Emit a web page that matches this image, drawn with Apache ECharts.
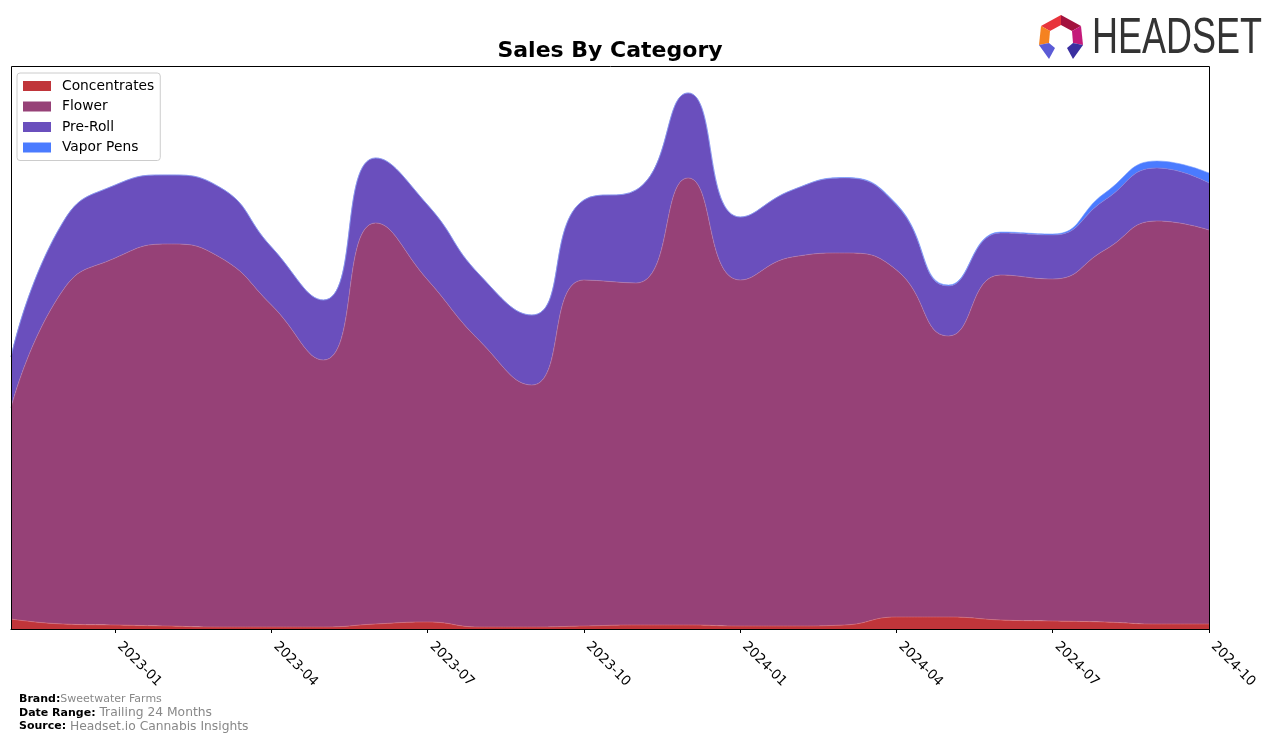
<!DOCTYPE html>
<html>
<head>
<meta charset="utf-8">
<script src="https://cdn.jsdelivr.net/npm/echarts@6/dist/echarts.min.js"></script>
<style>
html,body{margin:0;padding:0;background:#fff;}
#chart{width:1276px;height:743px;}
</style>
</head>
<body>
<div id="chart"></div>
<script>
const months = ['2022-11','2022-12','2023-01','2023-02','2023-03','2023-04','2023-05','2023-06','2023-07','2023-08','2023-09','2023-10','2023-11','2023-12','2024-01','2024-02','2024-03','2024-04','2024-05','2024-06','2024-07','2024-08','2024-09','2024-10'];
const concentrates = [10,5,4,3,2,2,2,5,7,2,2,3,4,4,3,3,4,12,12,9,8,7,5,5];
const flower = [211,334,367,382,370,322,267,401,342,286,242,346,342,447,346,369,372,347,281,345,342,372,403,394];
const preRoll = [51,68,73,69,70,58,60,65,75,66,70,80,93,85,63,67,75,65,50,42,44,50,53,47];
const vaporPens = [0,0,0,0,0,0,0,0,0,0,0,0,0,0,0,0,0.5,1,1,1,1,7,7,10];
const seriesNames = ['Concentrates','Flower','Pre-Roll','Vapor Pens'];
const seriesData = [concentrates, flower, preRoll, vaporPens];
const colors = ['#c0353a','#964177','#6a4fbd','#4a7bff'];
const edgeColors = ['#d8707a','#b87aa4','#8f7ad0','#7aa0ff'];

const chart = echarts.init(document.getElementById('chart'), null, {renderer:'canvas'});
const showTick = (i) => (i + 1) % 3 === 0;

const option = {
  animation: false,
  color: colors,
  grid: {left: 11, right: 67, top: 66, bottom: 114, containLabel: false},
  legend: {
    orient: 'vertical', left: 17, top: 73,
    data: seriesNames.map(n => ({name: n, icon: 'rect'})),
    itemWidth: 28, itemHeight: 10, itemGap: 6.5,
    padding: [6, 6, 6, 6],
    borderColor: '#cccccc', borderWidth: 1, borderRadius: 3,
    backgroundColor: 'rgba(255,255,255,0.8)',
    textStyle: {fontFamily: 'DejaVu Sans', fontSize: 13.8, color: '#000', lineHeight: 14, padding: [0,0,0,6]}
  },
  xAxis: {
    type: 'category', data: months, boundaryGap: false,
    axisLine: {show: true, lineStyle: {color: '#000', width: 1}},
    axisTick: {show: true, interval: (i) => showTick(i), length: 4, lineStyle: {color: '#000'}},
    axisLabel: {
      show: true, interval: (i) => showTick(i), rotate: -45, margin: 11, padding: [0,0,0,6],
      fontFamily: 'DejaVu Sans', fontSize: 13.5, color: '#000'
    },
    splitLine: {show: false}
  },
  yAxis: {type: 'value', min: 0, max: 563, show: false, splitLine: {show: false}},
  series: seriesNames.map((n, k) => ({
    name: n, type: 'line', stack: 'total', data: seriesData[k],
    smooth: 0.5, symbol: 'none',
    lineStyle: {width: 0.6, color: edgeColors[k]},
    itemStyle: {color: colors[k]},
    areaStyle: {color: colors[k], opacity: 1}
  })),
  graphic: [
    {type: 'rect', z: 100, silent: true, shape: {x: 11.5, y: 66.5, width: 1198, height: 563},
     style: {fill: 'none', stroke: '#000', lineWidth: 1}},
    {type: 'text', z: 100, x: 610, y: 51, style: {text: 'Sales By Category', font: 'bold 22px "DejaVu Sans"', fill: '#000', textAlign: 'center', textVerticalAlign: 'middle'}},
    {type: 'text', z: 100, x: 19, y: 699.5, style: {
      text: '{b|Brand:}{g1|Sweetwater Farms}', textVerticalAlign: 'middle',
      rich: {b: {font: 'bold 11px "DejaVu Sans"', fill: '#000'}, g1: {font: '11px "DejaVu Sans"', fill: '#888'}}}},
    {type: 'text', z: 100, x: 19, y: 713, style: {
      text: '{b|Date Range: }{g|Trailing 24 Months}', textVerticalAlign: 'middle',
      rich: {b: {font: 'bold 11px "DejaVu Sans"', fill: '#000'}, g: {font: '12.3px "DejaVu Sans"', fill: '#888'}}}},
    {type: 'text', z: 100, x: 19, y: 726.5, style: {
      text: '{b|Source: }{g|Headset.io Cannabis Insights}', textVerticalAlign: 'middle',
      rich: {b: {font: 'bold 11px "DejaVu Sans"', fill: '#000'}, g: {font: '12.3px "DejaVu Sans"', fill: '#888'}}}},
    {type: 'text', z: 100, x: 1092, y: 39, scaleX: 0.72, style: {text: 'HEADSET', font: '50px "Liberation Sans"', fill: '#333333', textVerticalAlign: 'middle'}},
    {type: 'polygon', z: 100, shape: {points: [[1041,26],[1061,15],[1061,25],[1050,31]]}, style: {fill: '#e8343c'}},
    {type: 'polygon', z: 100, shape: {points: [[1061,15],[1081,26],[1072,31],[1061,25]]}, style: {fill: '#a3123e'}},
    {type: 'polygon', z: 100, shape: {points: [[1081,26],[1083,45],[1073,43],[1072,31]]}, style: {fill: '#c41a7a'}},
    {type: 'polygon', z: 100, shape: {points: [[1041,26],[1050,31],[1049,43],[1039,45]]}, style: {fill: '#f58220'}},
    {type: 'polygon', z: 100, shape: {points: [[1039,45],[1049,43],[1055,48],[1049,59]]}, style: {fill: '#5b5bd6'}},
    {type: 'polygon', z: 100, shape: {points: [[1083,45],[1073,43],[1067,48],[1073,59]]}, style: {fill: '#3a2fa0'}}
  ]
};
chart.setOption(option);
</script>
</body>
</html>
